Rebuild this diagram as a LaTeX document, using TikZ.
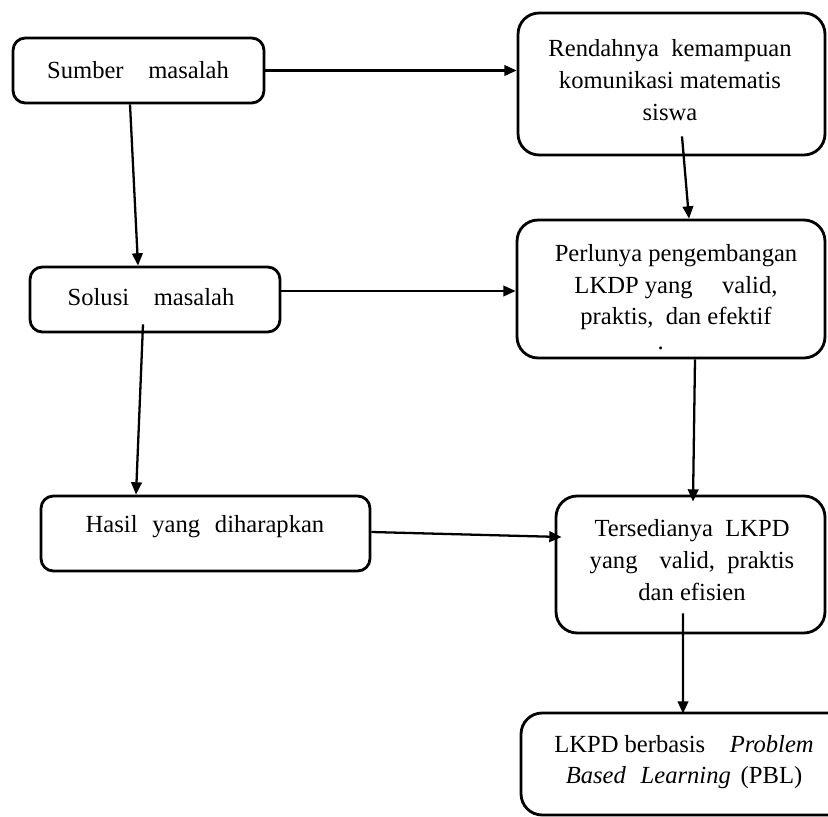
\documentclass[tikz,border=0pt]{standalone}
\usepackage{fontspec}
\setmainfont{Liberation Serif}
\usetikzlibrary{arrows.meta}

\begin{document}
\begin{tikzpicture}[x=0.02cm, y=-0.02cm,
		box/.style={draw, rounded corners=#1, line width=1.6pt, inner sep=0pt},
		box/.default=7pt,
		txt/.style={align=center, inner sep=0pt, font=\fontsize{14}{18}\selectfont},
		arr/.style={-{Triangle[length=7pt, width=6pt]}, line width=1.3pt}]
		\clip (0,0) rectangle (828,817); % the last box runs off the right edge of the page

		\node[box, minimum width=5.02cm, minimum height=1.3cm] (a) at (138.5,70.5) {};
		\node[box=12pt, minimum width=6.14cm, minimum height=2.84cm] (b) at (671.5,84) {};
		\node[box, minimum width=5cm, minimum height=1.3cm] (c) at (155,299.5) {};
		\node[box=12pt, minimum width=6.16cm, minimum height=2.76cm] (d) at (671,289) {};
		\node[box, minimum width=6.58cm, minimum height=1.5cm] (e) at (205.5,533.5) {};
		\node[box=12pt, minimum width=5.38cm, minimum height=2.74cm] (f) at (690.5,564.5) {};
		\node[box=12pt, minimum width=6.58cm, minimum height=2.04cm] (g) at (685.5,764) {};

		\node[txt] (ta) at (138,70) {Sumber\quad masalah};
		\node[txt] (tb) at (670,80) {Rendahnya\hspace{0.5em}kemampuan\\komunikasi matematis\\siswa};
		\node[txt] (tc) at (151,297) {Solusi\quad masalah};
		\node[txt] (td) at (676,297) {Perlunya pengembangan\\LKDP yang\hspace{1.2em}valid,\\praktis,\hspace{0.5em}dan efektif\\[-4pt]\makebox[0pt][r]{.\hspace{0.5em}}};
		\node[txt] (te) at (205,527) {Hasil\hspace{0.6em}yang\hspace{0.6em}diharapkan};
		\node[txt] (tf) at (692,560) {Tersedianya\hspace{0.5em}LKPD\\yang\hspace{0.9em}valid,\hspace{0.5em}praktis\\dan efisien};
		\node[txt] (tg) at (684,762) {LKPD berbasis\hspace{1em}\textit{Problem}\\\textit{Based}\hspace{0.6em}\textit{Learning}\hspace{0.4em}(PBL)};

		\draw[arr] (a.east) -- (b.west |- a.east);
		\draw[arr] ([yshift=0.17cm]c.east) -- ([yshift=0.17cm]d.west |- c.east);
		\draw[arr] ([yshift=0.03cm]e.east) -- ([xshift=0.14cm, yshift=0.55cm]f.west);
		\draw[arr] ([xshift=-0.17cm]a.south) -- ([xshift=-0.34cm]c.north);
		\draw[arr] ([xshift=-0.24cm, yshift=0.18cm]c.south) -- ([xshift=-1.39cm]e.north);
		\draw[arr] ([xshift=0.21cm, yshift=0.4cm]b.south) -- ([xshift=0.36cm]d.north);
		\draw[arr] ([xshift=0.48cm]d.south) -- ([xshift=0.05cm, yshift=-0.14cm]f.north);
		\draw[arr] ([xshift=-0.15cm, yshift=0.42cm]f.south) -- ([xshift=-0.05cm, yshift=-0.04cm]g.north);
	\end{tikzpicture}
\end{document}
